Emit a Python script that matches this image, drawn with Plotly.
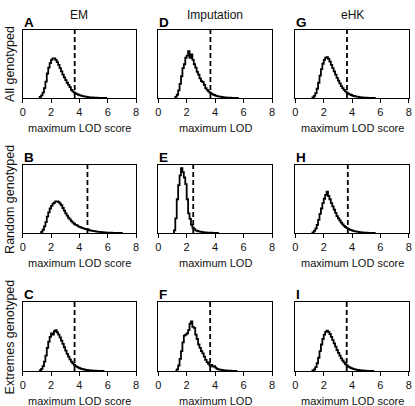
import plotly.graph_objects as go

# ---------------- data ----------------
BIN_WIDTH = 0.1
COL_TITLES = ["EM", "Imputation", "eHK"]
ROW_TITLES = ["All genotyped", "Random genotyped", "Extremes genotyped"]
X_TITLES = ["maximum LOD score", "maximum LOD", "maximum LOD score"]
PANEL_LETTERS = [["A", "D", "G"], ["B", "E", "H"], ["C", "F", "I"]]
X_TICKS = [0, 2, 4, 6, 8]

# density values of the max-LOD histograms (bin width 0.1), first bin start
start_A = 1.2
dens_A = [0.02, 0.05, 0.10, 0.18, 0.30, 0.45, 0.56, 0.64, 0.70, 0.73, 0.73, 0.70,
          0.66, 0.61, 0.55, 0.49, 0.43, 0.38, 0.33, 0.28, 0.24, 0.20, 0.15, 0.12,
          0.10, 0.085, 0.07, 0.06, 0.05, 0.042, 0.035, 0.03, 0.025, 0.02, 0.016,
          0.013, 0.011, 0.009, 0.007, 0.006, 0.005, 0.004, 0.003, 0.002, 0.002,
          0.001, 0.001]
start_D = 1.2
dens_D = [0.02, 0.06, 0.14, 0.26, 0.40, 0.55, 0.62, 0.74, 0.78, 0.86, 0.74, 0.80,
          0.70, 0.62, 0.56, 0.48, 0.43, 0.36, 0.31, 0.29, 0.24, 0.18, 0.15, 0.12,
          0.10, 0.08, 0.065, 0.055, 0.045, 0.035, 0.03, 0.025, 0.02, 0.015, 0.012,
          0.01, 0.008, 0.006, 0.005, 0.004, 0.003, 0.002, 0.002, 0.001]
start_G = 1.2
dens_G = [0.01, 0.04, 0.09, 0.17, 0.28, 0.41, 0.53, 0.63, 0.70, 0.74, 0.75, 0.72,
          0.67, 0.61, 0.55, 0.49, 0.43, 0.37, 0.32, 0.27, 0.22, 0.18, 0.15, 0.12,
          0.10, 0.08, 0.066, 0.055, 0.045, 0.037, 0.03, 0.025, 0.02, 0.016, 0.013,
          0.01, 0.008, 0.006, 0.005, 0.004, 0.003, 0.002, 0.002, 0.001]
start_B = 1.3
dens_B = [0.02, 0.06, 0.12, 0.20, 0.30, 0.38, 0.45, 0.50, 0.54, 0.56, 0.58, 0.58,
          0.57, 0.54, 0.51, 0.46, 0.41, 0.36, 0.32, 0.28, 0.25, 0.22, 0.19, 0.17,
          0.15, 0.14, 0.12, 0.11, 0.10, 0.09, 0.08, 0.07, 0.065, 0.06, 0.05, 0.045,
          0.04, 0.035, 0.03, 0.026, 0.022, 0.019, 0.016, 0.014, 0.012, 0.01, 0.008,
          0.007, 0.006, 0.005, 0.004, 0.003, 0.003, 0.002, 0.002, 0.001, 0.001]
start_E = 1.1
dens_E = [0.05, 0.27, 0.62, 0.88, 1.06, 1.19, 1.12, 1.02, 0.90, 0.62, 0.36, 0.26,
          0.15, 0.10, 0.07, 0.05, 0.04, 0.03, 0.025, 0.02, 0.015, 0.012, 0.01,
          0.008, 0.007, 0.006, 0.005, 0.004, 0.004, 0.003, 0.002]
start_H = 1.2
dens_H = [0.01, 0.04, 0.08, 0.15, 0.24, 0.35, 0.45, 0.55, 0.63, 0.70, 0.76, 0.68,
          0.62, 0.55, 0.49, 0.43, 0.37, 0.31, 0.27, 0.23, 0.19, 0.16, 0.13, 0.11,
          0.09, 0.075, 0.062, 0.052, 0.044, 0.036, 0.03, 0.025, 0.02, 0.016, 0.013,
          0.01, 0.008, 0.006, 0.005, 0.004, 0.003, 0.002, 0.002, 0.001]
start_C = 1.2
dens_C = [0.01, 0.04, 0.09, 0.17, 0.28, 0.42, 0.53, 0.62, 0.68, 0.66, 0.72, 0.74,
          0.70, 0.66, 0.61, 0.55, 0.49, 0.43, 0.37, 0.31, 0.26, 0.21, 0.17, 0.14,
          0.11, 0.09, 0.075, 0.06, 0.05, 0.04, 0.033, 0.027, 0.022, 0.018, 0.014,
          0.011, 0.009, 0.007, 0.006, 0.005, 0.004, 0.003, 0.002, 0.002, 0.001]
start_F = 1.2
dens_F = [0.0, 0.03, 0.10, 0.22, 0.36, 0.52, 0.64, 0.66, 0.68, 0.74, 0.86, 0.90,
          0.80, 0.78, 0.66, 0.58, 0.48, 0.42, 0.36, 0.32, 0.26, 0.20, 0.16, 0.13,
          0.10, 0.11, 0.08, 0.09, 0.06, 0.04, 0.03, 0.025, 0.02, 0.015, 0.012,
          0.01, 0.008, 0.006, 0.005, 0.004, 0.003, 0.002, 0.001]
start_I = 1.2
dens_I = [0.01, 0.03, 0.07, 0.14, 0.24, 0.36, 0.48, 0.58, 0.66, 0.71, 0.73, 0.71,
          0.67, 0.62, 0.56, 0.50, 0.44, 0.38, 0.33, 0.28, 0.23, 0.19, 0.155, 0.125,
          0.10, 0.08, 0.065, 0.053, 0.043, 0.035, 0.028, 0.022, 0.018, 0.014,
          0.011, 0.009, 0.007, 0.005, 0.004, 0.003, 0.002, 0.002, 0.001]

# significance thresholds (dashed lines)
thresholds = {"A": 3.67, "D": 3.67, "G": 3.64,
              "B": 4.57, "E": 2.46, "H": 3.70,
              "C": 3.66, "F": 3.65, "I": 3.62}

hists = {"A": (start_A, dens_A), "D": (start_D, dens_D), "G": (start_G, dens_G),
         "B": (start_B, dens_B), "E": (start_E, dens_E), "H": (start_H, dens_H),
         "C": (start_C, dens_C), "F": (start_F, dens_F), "I": (start_I, dens_I)}

# ---------------- layout geometry (pixels) ----------------
W, H = 415, 406
COL_PX = [(20, 135), (157.5, 273), (296.7, 411.7)]
ROW_PX = [(30, 98), (165, 233), (302, 371)]
Y_MAX = 1.25
FONT = "Liberation Sans, Arial, Helvetica, sans-serif"


def px_x(p):
    return p / W


def px_y(p):
    return 1 - p / H


fig = go.Figure()
layout = dict(
    width=W, height=H,
    margin=dict(l=0, r=0, t=0, b=0),
    paper_bgcolor="white", plot_bgcolor="white",
    showlegend=False,
    font=dict(family=FONT, color="black", size=11),
)
annotations = []

k = 0
for r in range(3):
    for c in range(3):
        k += 1
        letter = PANEL_LETTERS[r][c]
        xa = "xaxis" if k == 1 else f"xaxis{k}"
        ya = "yaxis" if k == 1 else f"yaxis{k}"
        xref = "x" if k == 1 else f"x{k}"
        yref = "y" if k == 1 else f"y{k}"
        x0p, x1p = COL_PX[c]
        y0p, y1p = ROW_PX[r]
        layout[xa] = dict(
            domain=[px_x(x0p), px_x(x1p)], anchor=yref, range=[0, 8],
            tickvals=X_TICKS, ticktext=[str(t) for t in X_TICKS],
            ticks="outside", ticklen=4, tickwidth=1, tickcolor="black",
            showline=True, linecolor="black", linewidth=1, mirror=True,
            showgrid=False, zeroline=False,
            tickfont=dict(family=FONT, size=11, color="#111"),
        )
        layout[ya] = dict(
            domain=[px_y(y1p), px_y(y0p)], anchor=xref, range=[0, Y_MAX],
            showticklabels=False, ticks="",
            showline=True, linecolor="black", linewidth=1, mirror=True,
            showgrid=False, zeroline=False,
        )
        start, dens = hists[letter]
        xs = [start] + [start + i * BIN_WIDTH for i in range(len(dens) + 1)]
        ys = [0] + list(dens) + [0]
        fig.add_trace(go.Scatter(
            x=xs, y=ys, mode="lines", line=dict(color="black", width=1.8, shape="hv"),
            xaxis=xref, yaxis=yref, hoverinfo="skip"))
        t = thresholds[letter]
        fig.add_trace(go.Scatter(
            x=[t, t], y=[0, Y_MAX], mode="lines",
            line=dict(color="black", width=1.8, dash="5px,3px"),
            xaxis=xref, yaxis=yref, hoverinfo="skip"))
        # panel letter
        annotations.append(dict(
            x=px_x(x0p - 1), y=px_y(y0p - 8), xref="paper", yref="paper",
            text=f"<b>{letter}</b>", showarrow=False, xanchor="left", yanchor="middle",
            font=dict(family=FONT, size=13.5, color="black")))
        # x-axis title
        annotations.append(dict(
            x=px_x((x0p + x1p) / 2), y=px_y(y1p + 30), xref="paper", yref="paper",
            text=X_TITLES[c], showarrow=False, xanchor="center", yanchor="middle",
            font=dict(family=FONT, size=11, color="#111")))

for c in range(3):
    x0p, x1p = COL_PX[c]
    annotations.append(dict(
        x=px_x((x0p + x1p) / 2), y=px_y(15), xref="paper", yref="paper",
        text=COL_TITLES[c], showarrow=False, xanchor="center", yanchor="middle",
        font=dict(family=FONT, size=12, color="#111")))
for r in range(3):
    y0p, y1p = ROW_PX[r]
    annotations.append(dict(
        x=px_x(7), y=px_y((y0p + y1p) / 2), xref="paper", yref="paper",
        text=ROW_TITLES[r], showarrow=False, textangle=-90,
        xanchor="center", yanchor="middle",
        font=dict(family=FONT, size=12.5, color="#111")))

layout["annotations"] = annotations
fig.update_layout(**layout)
fig.write_html(
    "out.html",
    config={"displayModeBar": False},
    post_script="document.body.style.margin='0';document.body.style.overflow='hidden';",
)
